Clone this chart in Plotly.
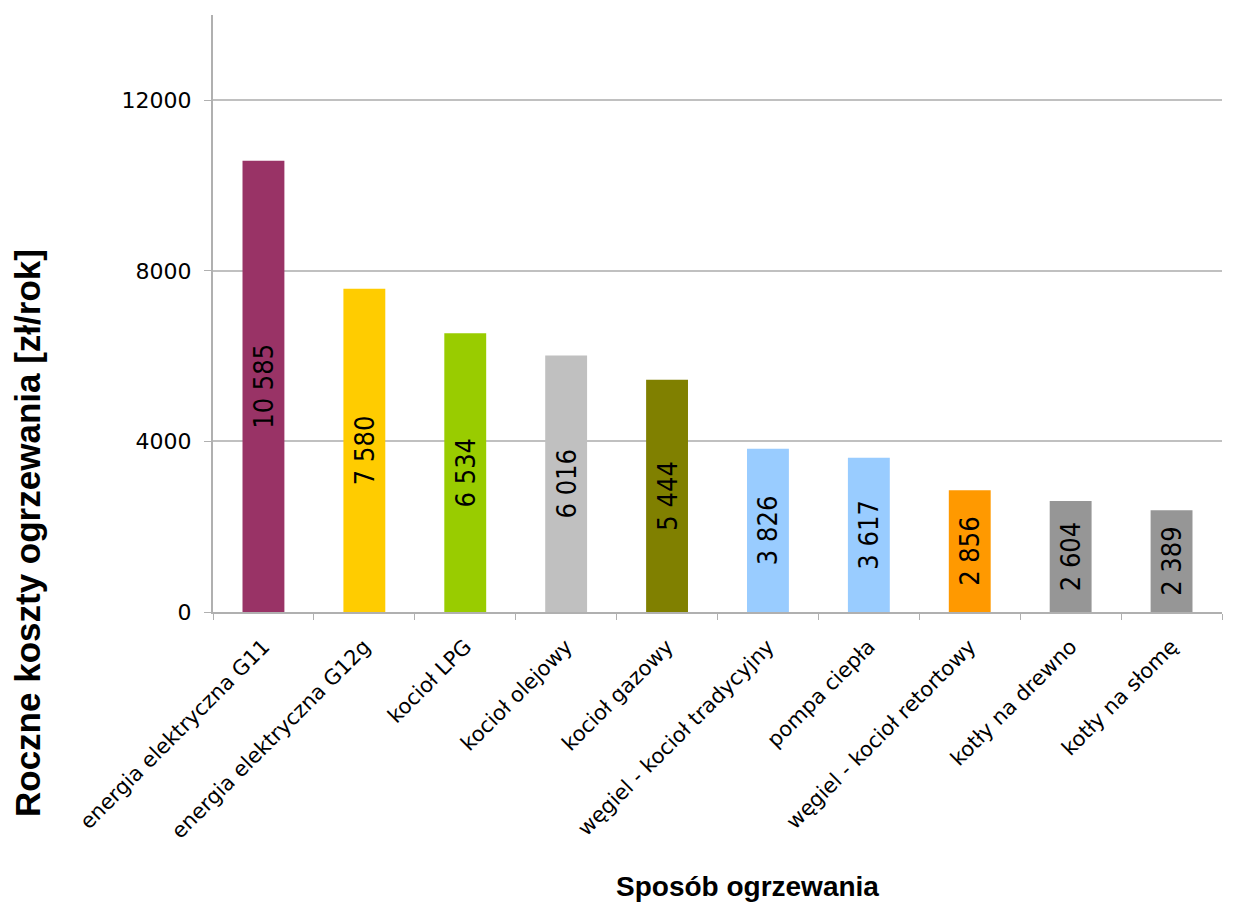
import plotly.graph_objects as go

categories = ["energia elektryczna G11", "energia elektryczna G12g", "kocioł LPG",
              "kocioł olejowy", "kocioł gazowy", "węgiel - kocioł tradycyjny",
              "pompa ciepła", "węgiel - kocioł retortowy", "kotły na drewno", "kotły na słomę"]
values = [10585, 7580, 6534, 6016, 5444, 3826, 3617, 2856, 2604, 2389]
colors = ["#993366", "#FFCC00", "#99CC00", "#C0C0C0", "#808000",
          "#99CCFF", "#99CCFF", "#FF9900", "#969696", "#969696"]
y_ticks = [0, 4000, 8000, 12000]

labels = [f"{v:,}".replace(",", " ") for v in values]

W, H = 1233, 904
L, R, T, B = 213, 11, 15, 292
pw = W - L - R
ph = H - T - B

fig = go.Figure(go.Bar(
    x=categories, y=values, marker=dict(color=colors, line=dict(width=0)),
    text=labels, textposition="inside", insidetextanchor="middle",
    textangle=-90, constraintext="none",
    textfont=dict(family="DejaVu Sans Condensed, Liberation Sans Narrow, DejaVu Sans", size=27, color="black"),
    hoverinfo="skip",
))

fig.update_layout(
    width=W, height=H, margin=dict(l=L, r=R, t=T, b=B),
    paper_bgcolor="white", plot_bgcolor="white",
    bargap=0.585, showlegend=False,
    font=dict(family="DejaVu Sans, Verdana, sans-serif", color="black"),
)
fig.update_xaxes(
    tickangle=-45, tickfont=dict(size=21, family="DejaVu Sans"),
    showline=True, linecolor="#b0b0b0", linewidth=2,
    ticks="outside", tickson="boundaries", ticklen=6, tickcolor="#b0b0b0", tickwidth=1,
    ticklabelstandoff=12,
    showgrid=False,
)
fig.update_yaxes(
    range=[0, 14000], tickvals=y_ticks, ticktext=[str(t) for t in y_ticks],
    tickfont=dict(size=22, family="DejaVu Sans"),
    showline=True, linecolor="#b0b0b0", linewidth=2,
    ticks="outside", ticklen=7, tickcolor="#b0b0b0", tickwidth=1,
    ticklabelstandoff=8,
    showgrid=True, gridcolor="#c0c0c0", gridwidth=2, zeroline=False,
)

fig.add_annotation(
    text="<b>Roczne koszty ogrzewania [zł/rok]</b>", textangle=-90,
    xref="paper", yref="paper", x=(27 - L) / pw, y=(H - B - 533) / ph,
    xanchor="center", yanchor="middle", showarrow=False,
    font=dict(size=35, family="Liberation Sans, Arial, sans-serif", color="black"),
)
fig.add_annotation(
    text="<b>Sposób ogrzewania</b>",
    xref="paper", yref="paper", x=(747 - L) / pw, y=(H - B - 886) / ph,
    xanchor="center", yanchor="middle", showarrow=False,
    font=dict(size=28, family="Liberation Sans, Arial, sans-serif", color="black"),
)

fig.write_html("out.html")
